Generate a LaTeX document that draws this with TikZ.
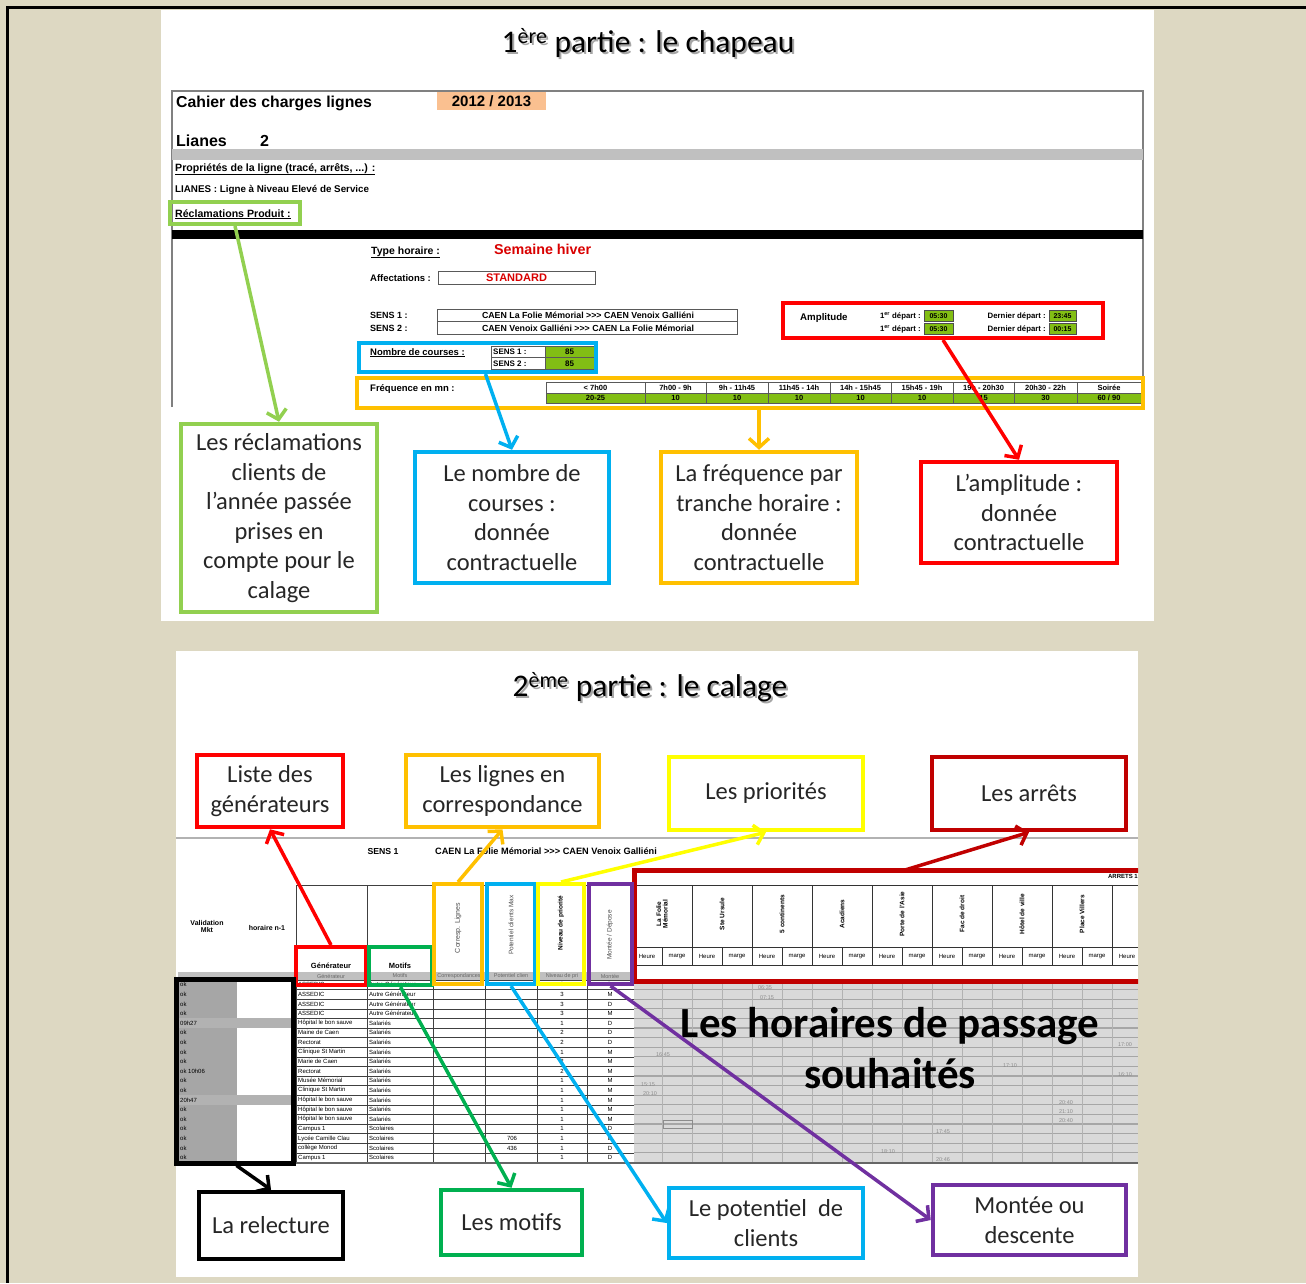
\documentclass[tikz,border=0pt]{standalone}
\usepackage{fontspec}
\setmainfont{Carlito}
\newfontfamily\xl{Liberation Sans}
\usetikzlibrary{arrows.meta}

\definecolor{beige}{RGB}{221,216,194}
\definecolor{lgreen}{RGB}{146,208,80}
\definecolor{cblue}{RGB}{0,176,240}
\definecolor{corange}{RGB}{255,192,0}
\definecolor{cyellow}{RGB}{255,255,0}
\definecolor{dred}{RGB}{192,0,0}
\definecolor{cgreen}{RGB}{0,176,80}
\definecolor{cpurple}{RGB}{112,48,160}
\definecolor{cellgreen}{RGB}{130,190,20}
\definecolor{peach}{RGB}{250,192,144}
\definecolor{sheetgray}{RGB}{192,192,192}

\tikzset{
	lbl/.style={draw=#1, line width=4.5, fill=white, align=center, inner sep=0,
		font=\fontsize{24.5}{29.5}\selectfont, text=black!85},
	hl/.style={draw=#1, line width=4, inner sep=0},
	arr/.style={draw=#1, line width=3.5, -{Straight Barb[length=9pt, width=20pt]}},
	xlt/.style={font=\xl\bfseries\fontsize{#1}{#1}\selectfont, inner sep=0},
	xln/.style={font=\xl\fontsize{#1}{#1}\selectfont, inner sep=0},
	ttl/.style={font=\fontsize{31.5}{31.5}\selectfont, inner sep=0},
}

\begin{document}
\begin{tikzpicture}[x=1pt, y=-1pt]

	% ---- page

	\useasboundingbox (0,0) rectangle (1306,1283);
	\fill[beige] (0,0) rectangle (1306,1283);
	\draw[line width=3] (1306,7) -- (7,7) -- (7,1283);
	\fill[white] (161,10) rectangle (1154,621);
	\fill[white] (176,651) rectangle (1138,1277);

	% ---- titles

	\def\ttlA{1\textsuperscript{ère} partie : le chapeau}
	\def\ttlB{2\textsuperscript{ème} partie : le calage}
	\node[ttl, text=black!35] at (650,45) {\ttlA};
	\node[ttl] (t1) at (648,43) {\ttlA};
	\node[ttl, text=black!35] at (652,689) {\ttlB};
	\node[ttl] (t2) at (650,687) {\ttlB};

	% ---- first sheet

	\draw[gray, line width=1.5] (172,407) -- (172,91) -- (1143,91) -- (1143,407);
	\node[xlt=15.8, anchor=base west] at (176,107) {Cahier des charges lignes};
	\fill[peach] (437,92) rectangle (546,110);
	\node[xlt=15] at (491.5,101) {2012 / 2013};
	\node[xlt=16, anchor=base west] at (176,146) {Lianes};
	\node[xlt=16, anchor=base west] at (260,146) {2};
	\fill[sheetgray] (172,149) rectangle (1143,160);
	\node[xlt=10.6, anchor=base west] at (175,171) {\underline{Propriétés de la ligne (tracé, arrêts, ...) :}};
	\node[xlt=9.8, anchor=base west] at (175,192) {LIANES : Ligne à Niveau Elevé de Service};
	\node[xlt=10.6, anchor=base west] at (175,217) {\underline{Réclamations Produit :}};
	\fill[black] (172,230) rectangle (1143,239);

	\node[xlt=10.5, anchor=base west] at (371,254) {\underline{Type horaire :}};
	\node[xlt=14.3, anchor=base west, text=red!85!black] at (494,254) {Semaine hiver};
	\node[xlt=9.5, anchor=base west] at (370,281) {Affectations :};
	\draw[gray!70!black] (438,271) rectangle (595,284);
	\node[xlt=11, text=red!85!black] at (516.5,277.5) {STANDARD};

	\node[xlt=9, anchor=base west] at (370,318) {SENS 1 :};
	\node[xlt=9, anchor=base west] at (370,331) {SENS 2 :};
	\draw[gray!70!black] (437,309) rectangle (737,334);
	\draw[gray!70!black] (437,321.5) -- (737,321.5);
	\node[xlt=8.8] at (588,315.5) {CAEN La Folie Mémorial >>> CAEN Venoix Galliéni};
	\node[xlt=8.8] at (588,328) {CAEN Venoix Galliéni >>> CAEN La Folie Mémorial};

	\node[xlt=9.5, anchor=base west] at (370,355) {\underline{Nombre de courses :}};
	\fill[cellgreen] (545,346) rectangle (594,369);
	\draw[gray!70!black] (491,346) rectangle (594,369);
	\draw[gray!70!black] (491,357.5) -- (594,357.5) (545,346) -- (545,369);
	\node[xlt=8, anchor=west] at (493,352) {SENS 1 :};
	\node[xlt=8, anchor=west] at (493,363.5) {SENS 2 :};
	\node[xlt=8] at (569.5,352) {85};
	\node[xlt=8] at (569.5,363.5) {85};

	\node[xlt=9.5, anchor=base west] at (370,391) {Fréquence en mn :};
	\fill[cellgreen] (546,393) rectangle (1141,403);
	\foreach \xa/\xb/\hd/\val in {546/645/{< 7h00}/20-25, 645/706/7h00 - 9h/10,
		706/768/9h - 11h45/10, 768/830/11h45 - 14h/10, 830/891/14h - 15h45/10,
		891/953/15h45 - 19h/10, 953/1014/19h - 20h30/15, 1014/1077/20h30 - 22h/30,
		1077/1141/Soirée/{60 / 90}} {
		\draw[gray!70!black, line width=0.8] (\xa,382) rectangle (\xb,403);
		\node[xlt=7.5] at ({(\xa+\xb)/2},387.5) {\hd};
		\node[xlt=7.5] at ({(\xa+\xb)/2},398) {\val};
	}
	\draw[gray!70!black, line width=0.8] (546,393) -- (1141,393);

	\node[xlt=9.7, anchor=base west] at (800,320) {Amplitude};
	\foreach \y/\ta/\tb in {316/05:30/23:45, 329/05:30/00:15} {
		\node[xlt=7.8, anchor=east] at (921,\y) {1\textsuperscript{er} départ :};
		\node[xlt=7.8, anchor=east] at (1046,\y) {Dernier départ :};
		\fill[cellgreen] (924,{\y-5.5}) rectangle (953,{\y+5.5});
		\fill[cellgreen] (1049,{\y-5.5}) rectangle (1076,{\y+5.5});
		\draw[black!70] (924,{\y-5.5}) rectangle (953,{\y+5.5});
		\draw[black!70] (1049,{\y-5.5}) rectangle (1076,{\y+5.5});
		\node[xlt=7] at (938.5,\y) {\ta};
		\node[xlt=7] at (1062.5,\y) {\tb};
	}

	% ---- first highlights

	\node[hl=lgreen, minimum width=130, minimum height=22] (hrec) at (235,213) {};
	\node[hl=cblue, minimum width=237, minimum height=29] (hnb) at (477.5,357.5) {};
	\node[hl=corange, minimum width=786, minimum height=30] (hfreq) at (750,393) {};
	\node[hl=red, minimum width=320, minimum height=35] (hamp) at (943,320.5) {};

	% ---- first labels

	\node[lbl=lgreen, minimum width=196, minimum height=188] (lrec) at (279,518)
		{Les réclamations\\clients de\\l'année passée\\prises en\\compte pour le\\calage};
	\node[lbl=cblue, minimum width=194, minimum height=131] (lnb) at (512,517.5)
		{Le nombre de\\courses :\\donnée\\contractuelle};
	\node[lbl=corange, minimum width=196, minimum height=131] (lfreq) at (759,517.5)
		{La fréquence par\\tranche horaire :\\donnée\\contractuelle};
	\node[lbl=red, minimum width=196, minimum height=101] (lamp) at (1019,512.5)
		{L'amplitude :\\donnée\\contractuelle};

	% ---- first arrows

	\draw[arr=lgreen] (hrec.south) -- (lrec.north);
	\draw[arr=cblue] ([xshift=8]hnb.south) -- (lnb.north);
	\draw[arr=corange] (hfreq.south -| lfreq.north) -- (lfreq.north);
	\draw[arr=red] (hamp.south) -- (lamp.north);

	% ---- second sheet

	\begin{scope}
		\clip (176,651) rectangle (1138,1277);

		\draw[gray!60, line width=2] (176,838) -- (1138,838);
		\node[xlt=8.7] at (383,851) {SENS 1};
		\node[xlt=9.2, anchor=west] at (435,851) {CAEN La Folie Mémorial >>> CAEN Venoix Galliéni};
		\node[xlt=7, align=center] at (207,926) {Validation\\Mkt};
		\node[xlt=7] at (267,928) {horaire n-1};

		% header grid
		\draw[black!75, line width=0.8] (296,885) -- (634,885);
		\foreach \x in {296,367,433,485,537,587} { \draw[black!75, line width=0.8] (\x,885) -- (\x,1163); }
		\fill[sheetgray] (178,972) rectangle (634,980);
		\node[xlt=7.5] at (331,966) {Générateur};
		\node[xlt=7.5] at (400,966) {Motifs};
		\foreach \x/\t in {331/Générateur, 400/Motifs, 459/Correspondances, 511/Potentiel clien,
			562/Niveau de pri, 610/Montée/D} {
			\node[xln=5.5, text=black!60] at (\x,976) {\t};
		}
		\node[xln=7, rotate=90, text=black!70] at (458,928) {Corresp. Lignes};
		\node[xln=6.5, rotate=90, text=black!70] at (511,925) {Potentiel clients Max};
		\node[xlt=6.5, rotate=90] at (561,923) {Niveau de priorité};
		\node[xln=6.5, rotate=90, text=black!70] at (610,935) {Montée / Dépose};

		% stops header
		\draw[black!80, line width=0.8] (634,885) -- (1138,885) (634,947) -- (1138,947) (634,965) -- (1138,965);
		\node[xlt=6, anchor=east] at (1138,876) {ARRETS 1};
		\foreach \st [count=\i] in {{La Folie\\Mémorial}, Ste Ursule, 5 continents, Acadiens,
			Porte de l'Asie, Fac de droit, Hôtel de ville, Place Villers, {}} {
			\draw[black!80, line width=0.8] ({632+60*\i},885) -- ({632+60*\i},965);
			\draw[black!80, line width=0.6] ({602+60*\i},947) -- ({602+60*\i},965);
			\node[xlt=6.5, rotate=90, align=center] at ({602+60*\i},914) {\st};
			\node[xln=6] at ({587+60*\i},956) {Heure};
			\node[xln=6] at ({617+60*\i},956) {marge};
		}

		% timetable area
		\fill[black!15] (634,981) rectangle (1138,1163);
		\foreach \i in {0,...,19} {
			\draw[black!75, line width=0.6] (296,{980+9.6*\i}) -- (634,{980+9.6*\i});
			\draw[black!35, line width=1.2] (634,{980+9.6*\i}) -- (1138,{980+9.6*\i});
		}
		\foreach \x in {662,692,...,1138} { \draw[black!30, line width=0.8] (\x,981) -- (\x,1163); }
		\foreach \x/\y/\t in {765/988/06:35, 767/998/07:15, 663/1055/16:45, 1010/1066/17:10,
			1125/1045/17:00, 1125/1075/16:10, 648/1085/15:15, 650/1094/20:10,
			1066/1103/20:40, 1066/1112/21:10, 1066/1121/20:40, 943/1132/17:45,
			888/1152/18:10, 943/1160/20:46} {
			\node[xln=5.5, text=black!45] at (\x,\y) {\t};
		}
		\draw[black!45] (663,1120) rectangle (692,1128);

		% rows
		\foreach \gen/\mot/\pot/\niv/\sens [count=\i] in {
			ASSEDIC/Autre Générateur//3/D, ASSEDIC/Autre Générateur//3/M,
			ASSEDIC/Autre Générateur//3/D, ASSEDIC/Autre Générateur//3/M,
			Hôpital le bon sauve/Salariés//1/D, Maine de Caen/Salariés//2/D,
			Rectorat/Salariés//2/D, Clinique St Martin/Salariés//1/M,
			Marie de Caen/Salariés//2/M, Rectorat/Salariés//2/M,
			Musée Mémorial/Salariés//1/M, Clinique St Martin/Salariés//1/M,
			Hôpital le bon sauve/Salariés//1/M, Hôpital le bon sauve/Salariés//1/M,
			Hôpital le bon sauve/Salariés//1/M, Campus 1/Scolaires//1/D,
			Lycée Camille Clau/Scolaires/706/1/D, collège Monod/Scolaires/436/1/D,
			Campus 1/Scolaires//1/D} {
			\node[xln=6, anchor=west] at (298,{980+9.6*(\i-0.5)}) {\gen};
			\node[xln=6, anchor=west] at (369,{980+9.6*(\i-0.5)}) {\mot};
			\node[xln=6] at (512,{980+9.6*(\i-0.5)}) {\pot};
			\node[xln=6] at (562,{980+9.6*(\i-0.5)}) {\niv};
			\node[xln=6] at (610,{980+9.6*(\i-0.5)}) {\sens};
		}
		\fill[black!30] (178,1018.4) rectangle (293,1028);
		\fill[black!30] (178,1095.2) rectangle (293,1104.8);
		\fill[black!35] (178,981) rectangle (237,1018.4);
		\fill[black!35] (178,1028) rectangle (237,1095.2);
		\fill[black!35] (178,1104.8) rectangle (237,1162);
		\foreach \i in {1,...,19} {
			\node[xln=6, anchor=west] at (180,{980+9.6*(\i-0.5)}) {\ifnum\i=5 09h27\else\ifnum\i=10 ok 10h06\else\ifnum\i=13 20h47\else ok\fi\fi\fi};
		}
		\draw[black!60, line width=2] (176,1163) -- (1138,1163);

		% overlay text
		\node[font=\bfseries\fontsize{43}{51}\selectfont, align=center, inner sep=0] (horaires) at (890,1048)
			{Les horaires de passage\\souhaités};

		% ---- second highlights

		\draw[dred, line width=5] (1145,870) rectangle (634,981);
		\coordinate (harr) at (905,870);
	\end{scope}

	\node[hl=red, minimum width=70, minimum height=38] (hgen) at (331,966) {};
	\node[hl=cgreen, minimum width=63, minimum height=38] (hmot) at (400.5,966) {};
	\node[hl=corange, minimum width=48, minimum height=100] (hcor) at (458,934) {};
	\node[hl=cblue, minimum width=48, minimum height=100] (hpot) at (511,934) {};
	\node[hl=cyellow, minimum width=46, minimum height=100] (hprio) at (561,934) {};
	\node[hl=cpurple, minimum width=43, minimum height=100] (hmon) at (610.5,934) {};
	\node[hl=black, line width=5, minimum width=117, minimum height=184] (hrel) at (234.5,1071) {};

	% ---- second labels

	\node[lbl=red, minimum width=146, minimum height=72] (lgen) at (270,791) {Liste des\\générateurs};
	\node[lbl=corange, minimum width=193, minimum height=72] (lcor) at (502.5,791) {Les lignes en\\correspondance};
	\node[lbl=cyellow, minimum width=194, minimum height=73] (lprio) at (766,793.5) {Les priorités};
	\node[lbl=dred, minimum width=194, minimum height=73] (larr) at (1029,793.5) {Les arrêts};
	\node[lbl=black, minimum width=144, minimum height=67] (lrel) at (271,1225.5) {La relecture};
	\node[lbl=cgreen, minimum width=141, minimum height=65] (lmot) at (511.5,1222.5) {Les motifs};
	\node[lbl=cblue, minimum width=194, minimum height=70] (lpot) at (766,1223) {Le potentiel~~de\\clients};
	\node[lbl=cpurple, minimum width=193, minimum height=70] (lmon) at (1029.5,1220) {Montée ou\\descente};

	% ---- second arrows

	\draw[arr=red] (hgen.north) -- (lgen.south);
	\draw[arr=corange] (hcor.north) -- (lcor.south);
	\draw[arr=cyellow] (hprio.north) -- (lprio.south);
	\draw[arr=dred] (harr) -- (larr.south);
	\draw[arr=black] ([xshift=2]hrel.south) -- (lrel.north);
	\draw[arr=cgreen] (hmot.south) -- (lmot.north);
	\draw[arr=cblue] (hpot.south) -- (lpot.west);
	\draw[arr=cpurple] (hmon.south) -- (lmon.west);

\end{tikzpicture}
\end{document}
